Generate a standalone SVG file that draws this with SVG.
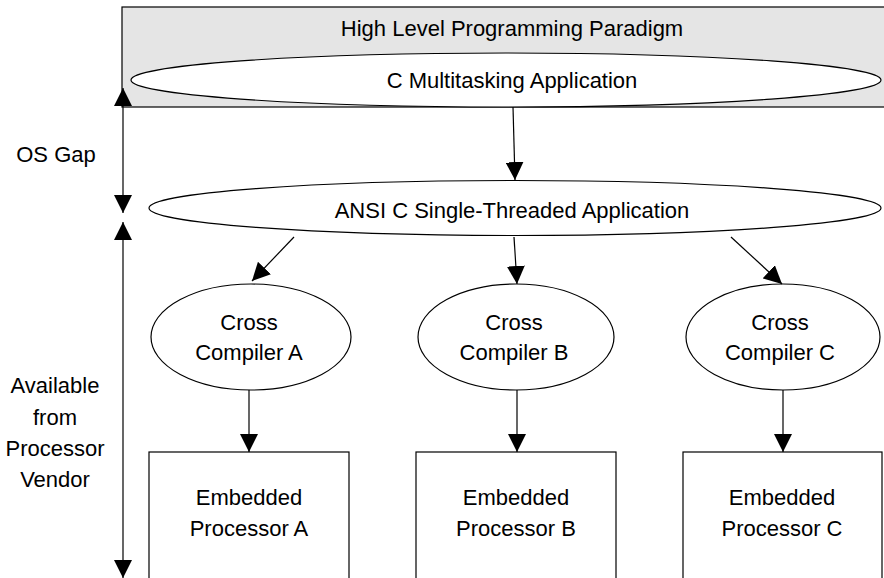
<svg xmlns="http://www.w3.org/2000/svg" width="884" height="578" viewBox="0 0 884 578">
  <style>
    text { font-family: "Liberation Sans", Arial, sans-serif; font-size: 22px; fill: #000; text-anchor: middle; dominant-baseline: central; }
    .shape { fill: #fff; stroke: #000; stroke-width: 1.2; }
    .edge { stroke: #000; stroke-width: 1.2; fill: none; marker-end: url(#head); }
  </style>
  <defs>
    <marker id="head" viewBox="0 0 18 18" refX="18" refY="9" markerWidth="18" markerHeight="18" markerUnits="userSpaceOnUse" orient="auto">
      <path d="M0,0 L18,9 L0,18 Z" fill="#000"/>
    </marker>
  </defs>

  <!-- high level band -->
  <g id="paradigm">
    <rect x="122" y="7" width="780" height="100" fill="#e5e5e5" stroke="#000" stroke-width="1.2"/>
    <text x="512" y="28">High Level Programming Paradigm</text>
  </g>

  <g id="multitasking">
    <ellipse class="shape" cx="506" cy="80" rx="375" ry="27"/>
    <text x="512" y="80">C Multitasking Application</text>
  </g>

  <g id="ansi">
    <ellipse class="shape" cx="515" cy="208" rx="366" ry="27.5"/>
    <text x="512" y="210">ANSI C Single-Threaded Application</text>
  </g>

  <g id="compilerA">
    <ellipse class="shape" cx="251" cy="337" rx="100" ry="53"/>
    <text x="249" y="322">Cross</text>
    <text x="249" y="352">Compiler A</text>
  </g>
  <g id="compilerB">
    <ellipse class="shape" cx="516" cy="337" rx="98" ry="53"/>
    <text x="514" y="322">Cross</text>
    <text x="514" y="352">Compiler B</text>
  </g>
  <g id="compilerC">
    <ellipse class="shape" cx="783" cy="337" rx="97" ry="53"/>
    <text x="780" y="322">Cross</text>
    <text x="780" y="352">Compiler C</text>
  </g>

  <g id="processorA">
    <rect class="shape" x="149" y="452" width="200" height="140"/>
    <text x="249" y="497">Embedded</text>
    <text x="249" y="528">Processor A</text>
  </g>
  <g id="processorB">
    <rect class="shape" x="416" y="452" width="200" height="140"/>
    <text x="516" y="497">Embedded</text>
    <text x="516" y="528">Processor B</text>
  </g>
  <g id="processorC">
    <rect class="shape" x="683" y="452" width="199" height="140"/>
    <text x="782" y="497">Embedded</text>
    <text x="782" y="528">Processor C</text>
  </g>

  <!-- side annotations -->
  <g id="osgap">
    <text x="56" y="154">OS Gap</text>
  </g>
  <g id="vendor">
    <text x="55" y="385">Available</text>
    <text x="55" y="417">from</text>
    <text x="55" y="448">Processor</text>
    <text x="55" y="479">Vendor</text>
  </g>

  <g id="connectors">
    <line class="edge" x1="513" y1="107" x2="515" y2="180"/>
    <line class="edge" x1="294" y1="237" x2="252" y2="281"/>
    <line class="edge" x1="514" y1="237" x2="517" y2="284"/>
    <line class="edge" x1="731" y1="237" x2="782" y2="284"/>
    <line class="edge" x1="249" y1="390" x2="249" y2="452"/>
    <line class="edge" x1="517" y1="390" x2="517" y2="452"/>
    <line class="edge" x1="783" y1="390" x2="783" y2="452"/>
    <!-- span arrows on the left -->
    <line class="edge" x1="123" y1="150" x2="123" y2="88"/>
    <line class="edge" x1="123" y1="150" x2="123" y2="213"/>
    <line class="edge" x1="123" y1="400" x2="123" y2="222"/>
    <line class="edge" x1="123" y1="400" x2="123" y2="578"/>
  </g>
</svg>
